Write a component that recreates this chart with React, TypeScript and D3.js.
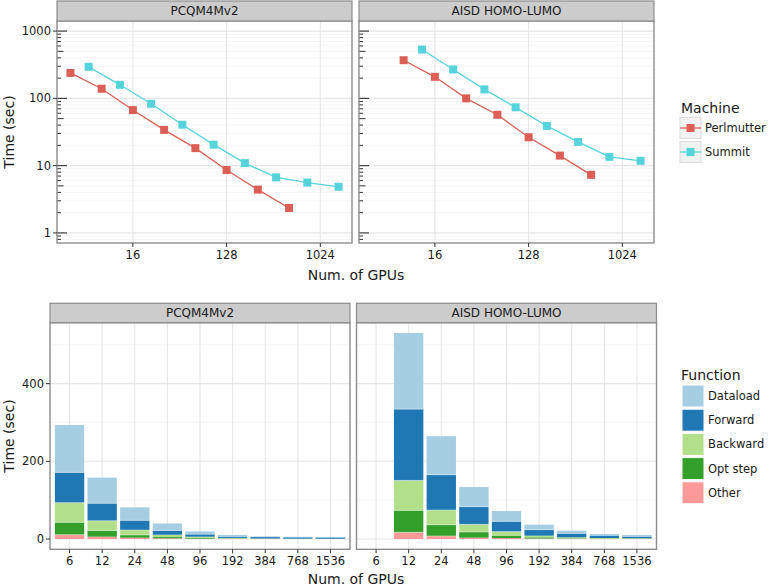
import React from 'react';
import * as d3 from 'd3';

// ---- data: top chart (time per epoch, log scale) ----
const machines = ['Perlmutter', 'Summit'];
const machineColors = ['#db5f57', '#57d3db'];
const datasets = ['PCQM4Mv2', 'AISD HOMO-LUMO'];

const perlmutterGpusPcqm = [4, 8, 16, 32, 64, 128, 256, 512];
const perlmutterTimePcqm = [239, 139, 67, 34, 18.2, 8.6, 4.4, 2.35];
const summitGpusPcqm = [6, 12, 24, 48, 96, 192, 384, 768, 1536];
const summitTimePcqm = [294, 159, 83, 40.6, 20.5, 10.9, 6.7, 5.6, 4.85];

const perlmutterGpusAisd = [8, 16, 32, 64, 128, 256, 512];
const perlmutterTimeAisd = [369, 209, 100, 57, 26.4, 14.1, 7.3];
const summitGpusAisd = [12, 24, 48, 96, 192, 384, 768, 1536];
const summitTimeAisd = [532, 269, 136, 73.6, 38.9, 22.5, 13.5, 11.8];

const xTicksTop = [16, 128, 1024];
const yTicksTop = [1, 10, 100, 1000];

// ---- data: bottom chart (breakdown per function, Summit) ----
const gpuCategories = ['6', '12', '24', '48', '96', '192', '384', '768', '1536'];
const functionNames = ['Dataload', 'Forward', 'Backward', 'Opt step', 'Other'];
const functionColors = ['#a6cee3', '#1f78b4', '#b2df8a', '#33a02c', '#fb9a99'];

const dataloadPcqm = [122, 66, 33.5, 18, 7.7, 4.3, 1.8, 1.2, 0.9];
const forwardPcqm = [78, 45, 25, 11, 6, 3.2, 3.5, 3.4, 3.1];
const backwardPcqm = [50.5, 25, 12.7, 6, 2.6, 1.4, 0.6, 0.5, 0.4];
const optPcqm = [32, 16, 7, 3.3, 2.4, 1.0, 0.5, 0.3, 0.3];
const otherPcqm = [11, 6, 3.4, 1.7, 0.9, 0.4, 0.3, 0.2, 0.15];

const dataloadAisd = [0, 196, 99.4, 50.6, 26.5, 12.9, 6.9, 4.3, 4.3];
const forwardAisd = [0, 183.6, 91, 45.4, 26.6, 15.4, 10.3, 6, 3.9];
const backwardAisd = [0, 77, 37.7, 19.8, 10.3, 4.3, 2.6, 1.2, 1.0];
const optAisd = [0, 56.6, 29, 14.6, 6, 3, 1.1, 0.9, 0.7];
const otherAisd = [0, 17.2, 7.7, 3.4, 2.6, 1.3, 0.6, 0.5, 0.4];

const yTicksBottom = [0, 200, 400];
const yMinorBottom = [100, 300, 500];

const FONT = 'DejaVu Sans, sans-serif';
const TXT = '#1a1a1a';
const GRID = '#e6e6e6';
const GRID_MINOR = '#f3f3f3';
const BORDER = '#8c8c8c';
const STRIP = '#cccccc';

const topLines = [
  [
    { gpus: perlmutterGpusPcqm, time: perlmutterTimePcqm },
    { gpus: summitGpusPcqm, time: summitTimePcqm },
  ],
  [
    { gpus: perlmutterGpusAisd, time: perlmutterTimeAisd },
    { gpus: summitGpusAisd, time: summitTimeAisd },
  ],
];

const bottomSets = [
  [dataloadPcqm, forwardPcqm, backwardPcqm, optPcqm, otherPcqm],
  [dataloadAisd, forwardAisd, backwardAisd, optAisd, otherAisd],
];

// expand a log domain by 5% (in log space)
function expandLog(lo: number, hi: number, base: number) {
  const a = Math.log(lo) / Math.log(base), b = Math.log(hi) / Math.log(base);
  const pad = (b - a) * 0.05;
  return [Math.pow(base, a - pad), Math.pow(base, b + pad)];
}

const TopChart = () => {
  const panelTop = 21, panelBottom = 243, stripH = 20;
  const panelXs = [57, 359];
  const panelW = 295;

  const allGpus = [...perlmutterGpusPcqm, ...summitGpusPcqm, ...perlmutterGpusAisd, ...summitGpusAisd];
  const xDom = expandLog(d3.min(allGpus)!, d3.max(allGpus)!, 2);
  const yDom = expandLog(1, 1000, 10);

  const y = d3.scaleLog().domain(yDom).range([panelBottom, panelTop]);
  const minorY: number[] = [];
  for (let p = -1; p <= 3; p++) {
    for (let m = 2; m <= 9; m++) {
      const v = m * Math.pow(10, p);
      if (v > yDom[0] && v < yDom[1]) minorY.push(v);
    }
  }

  return (
    <g>
      {datasets.map((name, pi) => {
        const x0 = panelXs[pi];
        const x = d3.scaleLog().base(2).domain(xDom).range([x0, x0 + panelW]);
        const line = d3.line<[number, number]>()
          .x((d) => d[0])
          .y((d) => d[1]);
        return (
          <g key={name}>
            <rect x={x0} y={panelTop} width={panelW} height={panelBottom - panelTop} fill="white" />
            {minorY.map((v) => (
              <line key={'my' + v} x1={x0} x2={x0 + panelW} y1={y(v)} y2={y(v)} stroke={GRID_MINOR} strokeWidth={0.8} />
            ))}
            {yTicksTop.map((v) => (
              <line key={'gy' + v} x1={x0} x2={x0 + panelW} y1={y(v)} y2={y(v)} stroke={GRID} strokeWidth={1.1} />
            ))}
            {xTicksTop.map((v) => (
              <line key={'gx' + v} x1={x(v)} x2={x(v)} y1={panelTop} y2={panelBottom} stroke={GRID} strokeWidth={1.1} />
            ))}
            {/* log ticks on the left side of each panel */}
            {minorY.map((v) => {
              const len = Math.round(v / Math.pow(10, Math.floor(Math.log10(v) + 1e-9))) === 5 ? 6.5 : 4;
              return <line key={'lt' + v} x1={x0} x2={x0 + len} y1={y(v)} y2={y(v)} stroke="#333" strokeWidth={1} />;
            })}
            {yTicksTop.map((v) => (
              <line key={'lT' + v} x1={x0} x2={x0 + 10} y1={y(v)} y2={y(v)} stroke="#333" strokeWidth={1.1} />
            ))}
            {topLines[pi].map((s, si) => {
              const pts = s.gpus.map((g, i) => [x(g), y(s.time[i])] as [number, number]);
              return (
                <g key={si}>
                  <path d={line(pts) || ''} fill="none" stroke={machineColors[si]} strokeWidth={1.3} />
                  {pts.map((p, i) => (
                    <rect key={i} x={p[0] - 4} y={p[1] - 4} width={8} height={8} fill={machineColors[si]} />
                  ))}
                </g>
              );
            })}
            <rect x={x0} y={panelTop} width={panelW} height={panelBottom - panelTop} fill="none" stroke={BORDER} strokeWidth={1.4} />
            <rect x={x0} y={panelTop - stripH} width={panelW} height={stripH} fill={STRIP} stroke={BORDER} strokeWidth={1.2} />
            <text x={x0 + panelW / 2} y={panelTop - stripH / 2} textAnchor="middle" dominantBaseline="central" fontSize={12} fill={TXT}>{name}</text>
            {xTicksTop.map((v) => (
              <g key={'xt' + v}>
                <line x1={x(v)} x2={x(v)} y1={panelBottom} y2={panelBottom + 4} stroke="#333" />
                <text x={x(v)} y={panelBottom + 12} textAnchor="middle" dominantBaseline="central" fontSize={11.5} fill={TXT}>{v}</text>
              </g>
            ))}
            {pi === 0 && yTicksTop.map((v) => (
              <g key={'yt' + v}>
                <line x1={x0 - 4} x2={x0} y1={y(v)} y2={y(v)} stroke="#333" />
                <text x={x0 - 6} y={y(v)} textAnchor="end" dominantBaseline="central" fontSize={11.5} fill={TXT}>{v}</text>
              </g>
            ))}
          </g>
        );
      })}
      <text x={356} y={275} textAnchor="middle" dominantBaseline="central" fontSize={14} fill={TXT}>Num. of GPUs</text>
      <text transform={`translate(9,${(panelTop + panelBottom) / 2}) rotate(-90)`} textAnchor="middle" dominantBaseline="central" fontSize={14} fill={TXT}>Time (sec)</text>
      {/* legend */}
      <text x={681} y={108} dominantBaseline="central" fontSize={14} fill={TXT}>Machine</text>
      {machines.map((m, i) => {
        const cy = 128 + i * 24;
        return (
          <g key={m}>
            <rect x={680} y={cy - 10.5} width={21} height={21} fill="#f2f2f2" stroke="#dcdcdc" />
            <line x1={680} x2={701} y1={cy} y2={cy} stroke={machineColors[i]} strokeWidth={1.3} />
            <rect x={686.5} y={cy - 4} width={8} height={8} fill={machineColors[i]} />
            <text x={705} y={cy} dominantBaseline="central" fontSize={11.5} fill={TXT}>{m}</text>
          </g>
        );
      })}
    </g>
  );
};

const BottomChart = () => {
  const panelTop = 322.7, panelBottom = 549.3, stripH = 19.4;
  const panelXs = [50, 356.5];
  const panelW = 300;

  // stack from bottom: Other, Opt step, Backward, Forward, Dataload
  const stackKeys = [...functionNames].reverse();
  const stacks = bottomSets.map((arrs) => {
    const rows = gpuCategories.map((c, i) => {
      const r: any = { cat: c };
      functionNames.forEach((f, fi) => { r[f] = arrs[fi][i]; });
      return r;
    });
    return d3.stack().keys(stackKeys)(rows);
  });
  const maxTotal = d3.max(stacks, (st) => d3.max(st[st.length - 1], (d) => d[1]))!;
  const y = d3.scaleLinear().domain([-0.05 * maxTotal, 1.05 * maxTotal]).range([panelBottom, panelTop]);

  return (
    <g>
      {datasets.map((name, pi) => {
        const x0 = panelXs[pi];
        // discrete axis: 0.6 unit of padding on each side, bars 0.9 unit wide
        const x = d3.scalePoint().domain(gpuCategories).range([x0, x0 + panelW]).padding(0.6);
        const unit = x.step();
        const cx = (c: string) => x(c)!;
        const bw = 0.9 * unit;
        return (
          <g key={name}>
            <rect x={x0} y={panelTop} width={panelW} height={panelBottom - panelTop} fill="white" />
            {yMinorBottom.map((v) => (
              <line key={'my' + v} x1={x0} x2={x0 + panelW} y1={y(v)} y2={y(v)} stroke={GRID_MINOR} strokeWidth={0.9} />
            ))}
            {yTicksBottom.map((v) => (
              <line key={'gy' + v} x1={x0} x2={x0 + panelW} y1={y(v)} y2={y(v)} stroke={GRID} strokeWidth={1.1} />
            ))}
            {gpuCategories.map((c) => (
              <line key={'gx' + c} x1={cx(c)} x2={cx(c)} y1={panelTop} y2={panelBottom} stroke={GRID} strokeWidth={1.1} />
            ))}
            {stacks[pi].map((layer) => {
              const color = functionColors[functionNames.indexOf(layer.key)];
              return layer.map((d, i) => {
                if (d[1] - d[0] <= 0) return null;
                const c = gpuCategories[i];
                return (
                  <rect key={layer.key + c} x={cx(c) - bw / 2} y={y(d[1])} width={bw} height={y(d[0]) - y(d[1])}
                    fill={color} />
                );
              });
            })}
            {/* thin white separators between stacked segments */}
            {stacks[pi].slice(0, -1).map((layer) =>
              layer.map((d, i) => {
                const h = y(d[0]) - y(d[1]);
                if (h < 2.5) return null;
                const c = gpuCategories[i];
                return (
                  <line key={'sep' + layer.key + c} x1={cx(c) - bw / 2} x2={cx(c) + bw / 2} y1={y(d[1])} y2={y(d[1])}
                    stroke="white" strokeOpacity={0.7} strokeWidth={0.6} />
                );
              })
            )}
            <rect x={x0} y={panelTop} width={panelW} height={panelBottom - panelTop} fill="none" stroke={BORDER} strokeWidth={1.4} />
            <rect x={x0} y={panelTop - stripH} width={panelW} height={stripH} fill={STRIP} stroke={BORDER} strokeWidth={1.2} />
            <text x={x0 + panelW / 2} y={panelTop - stripH / 2} textAnchor="middle" dominantBaseline="central" fontSize={12} fill={TXT}>{name}</text>
            {gpuCategories.map((c) => (
              <g key={'xt' + c}>
                <line x1={cx(c)} x2={cx(c)} y1={panelBottom} y2={panelBottom + 4} stroke="#333" />
                <text x={cx(c)} y={panelBottom + 12} textAnchor="middle" dominantBaseline="central" fontSize={11.5} fill={TXT}>{c}</text>
              </g>
            ))}
            {pi === 0 && yTicksBottom.map((v) => (
              <g key={'yt' + v}>
                <line x1={x0 - 4} x2={x0} y1={y(v)} y2={y(v)} stroke="#333" />
                <text x={x0 - 6} y={y(v)} textAnchor="end" dominantBaseline="central" fontSize={11.5} fill={TXT}>{v}</text>
              </g>
            ))}
          </g>
        );
      })}
      <text x={356} y={578.5} textAnchor="middle" dominantBaseline="central" fontSize={14} fill={TXT}>Num. of GPUs</text>
      <text transform={`translate(9,${(panelTop + panelBottom) / 2}) rotate(-90)`} textAnchor="middle" dominantBaseline="central" fontSize={14} fill={TXT}>Time (sec)</text>
      <text x={681} y={375} dominantBaseline="central" fontSize={14} fill={TXT}>Function</text>
      {functionNames.map((f, i) => {
        const cy = 396 + i * 24.2;
        return (
          <g key={f}>
            <rect x={682} y={cy - 11} width={22} height={22} fill={functionColors[i]} stroke="white" strokeWidth={1} />
            <text x={708} y={cy} dominantBaseline="central" fontSize={11.5} fill={TXT}>{f}</text>
          </g>
        );
      })}
    </g>
  );
};

export default function App() {
  return (
    <svg width={784} height={585} style={{ position: 'absolute', left: 0, top: 0, background: 'white' }} fontFamily={FONT}>
      <rect width={784} height={585} fill="white" />
      <TopChart />
      <BottomChart />
    </svg>
  );
}
